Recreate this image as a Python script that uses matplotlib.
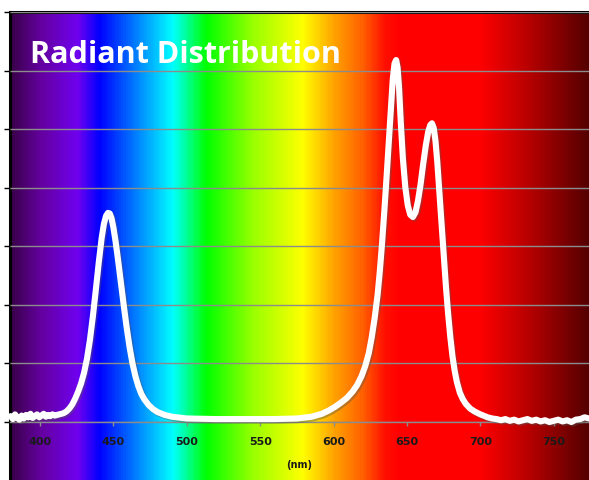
import matplotlib.pyplot as plt
import matplotlib.patheffects as pe
import numpy as np
from matplotlib.colors import LinearSegmentedColormap

# spectrum readings (grid units, one gridline = 1)
wavelength_nm = [380, 381.5, 383, 384.5, 386, 387.5, 389, 390.5, 392, 393.5, 395, 396.5, 398, 399.5,
                 401, 402.5, 404, 405.5, 407, 408.5, 410, 411.5, 413, 414.5, 416, 418, 420, 422, 424,
                 426, 428, 430, 432, 434, 436, 438, 440, 442, 443.5, 445, 446.3, 447.5, 448.7, 450,
                 451.5, 453, 455, 457, 459, 461, 463, 465, 467, 469, 471, 474, 477, 480, 485, 490,
                 500, 520, 540, 560, 575, 585, 592, 597, 601, 605, 609, 613, 616, 619, 621.5, 624,
                 626, 628, 630, 631.5, 633, 634.5, 636, 637.5, 639, 640.3, 641.5, 642.6, 643.6, 644.6,
                 645.8, 647.2, 648.8, 650.5, 652.2, 654, 655.8, 657.5, 659.2, 661, 662.8, 664.4, 665.8,
                 667, 668.2, 669.4, 670.6, 672, 673.5, 675, 676.5, 678, 679.5, 681, 682.5, 684, 686,
                 688, 690, 693, 696, 700, 705, 708, 711, 714, 717, 720, 723, 726, 729, 732, 735, 738,
                 741, 744, 747, 750, 753, 756, 759, 762, 765, 768, 771, 774]
radiance = [0.10, 0.05, 0.13, 0.07, 0.04, 0.11, 0.06, 0.12, 0.08, 0.14, 0.07, 0.10, 0.13, 0.08,
            0.11, 0.14, 0.09, 0.12, 0.10, 0.13, 0.11, 0.12, 0.13, 0.14, 0.15, 0.18, 0.23, 0.30, 0.40,
            0.52, 0.66, 0.84, 1.08, 1.40, 1.80, 2.25, 2.72, 3.14, 3.38, 3.52, 3.57, 3.56, 3.48, 3.32,
            3.08, 2.80, 2.40, 2.00, 1.62, 1.28, 1.00, 0.78, 0.61, 0.48, 0.39, 0.29, 0.22, 0.17, 0.12, 0.09,
            0.06, 0.05, 0.05, 0.05, 0.06, 0.09, 0.14, 0.20, 0.26, 0.33, 0.41, 0.52, 0.63, 0.78, 0.95, 1.18,
            1.45, 1.78, 2.18, 2.58, 3.05, 3.58, 4.15, 4.75, 5.35, 5.85, 6.12, 6.18, 6.05, 5.70,
            5.10, 4.50, 4.02, 3.70, 3.54, 3.50, 3.58, 3.78, 4.05, 4.40, 4.72, 4.95, 5.07,
            5.10, 5.02, 4.80, 4.45, 3.95, 3.40, 2.85, 2.32, 1.85, 1.45, 1.12, 0.87, 0.68, 0.50,
            0.39, 0.31, 0.23, 0.18, 0.13, 0.08, 0.06, 0.05, 0.03, 0.05, 0.02, 0.04, 0.01, 0.03, 0.05, 0.02, 0.04,
            0.01, 0.03, 0.00, 0.02, 0.04, 0.01, 0.03, 0.00, 0.04, 0.05, 0.08, 0.06]
tick_nm = [400, 450, 500, 550, 600, 650, 700, 750]

# background spectrum colour stops
stop_nm = [379, 400, 425, 440, 465, 490, 513, 545, 579, 600, 620, 635, 645, 700, 730, 774]
stop_col = ["#3a004a", "#6400a0", "#7000f0", "#0000ff", "#0080ff", "#00ffff", "#00ff00", "#99ff00",
            "#ffff00", "#ffa500", "#ff6000", "#ff1000", "#ff0000", "#ff0000", "#c00000", "#560000"]

x0, x1 = 379.56, 773.98
pos = [(s - x0) / (x1 - x0) for s in stop_nm]
pos[0], pos[-1] = 0.0, 1.0
cmap = LinearSegmentedColormap.from_list("spec", list(zip(pos, stop_col)))

fig = plt.figure(figsize=(5.89, 4.8), dpi=100)

bg = fig.add_axes([10/589, 0, 579/589, 468/480])
bg.imshow(np.linspace(0, 1, 600).reshape(1, -1), cmap=cmap, aspect="auto", extent=[x0, x1, 0, 1])
bg.set_xlim(x0, x1)
bg.set_xticks([])
bg.set_yticks([])
for s in ["right", "bottom"]:
    bg.spines[s].set_visible(False)
bg.spines["left"].set_linewidth(2.2)
bg.spines["top"].set_linewidth(2.2)

ax = fig.add_axes([10/589, 58/480, 579/589, 410/480])
ax.patch.set_alpha(0)
ax.set_xlim(x0, x1)
ax.set_ylim(0, 7)
ax.set_yticks(range(0, 8))
ax.set_yticklabels([])
ax.tick_params(axis="y", direction="out", length=4, width=1, color="black")
ax.yaxis.grid(True, color="#8c8c8c", lw=1)
ax.set_axisbelow(True)
for s in ["left", "top", "right"]:
    ax.spines[s].set_visible(False)
ax.spines["bottom"].set_color("#8c8c8c")
ax.spines["bottom"].set_linewidth(1)

ax.plot(wavelength_nm, radiance, color="white", lw=4.4, solid_capstyle="round", solid_joinstyle="round",
        path_effects=[pe.SimpleLineShadow(offset=(1.2, -1.2), shadow_color="#555555", alpha=0.4), pe.Normal()],
        clip_on=False, zorder=3)

ax.set_xticks(tick_nm)
ax.set_xticklabels([str(t) for t in tick_nm], fontsize=8, fontweight="bold", color="#1a1a1a",
                   family="DejaVu Sans")
ax.tick_params(axis="x", direction="out", length=3, width=1, color="#8c8c8c", pad=8)
ax.set_xlabel("(nm)", fontsize=7, fontweight="bold", color="#1a1a1a", family="DejaVu Sans", labelpad=9)

fig.text(30/589, 1 - 63/480, "Radiant Distribution", color="white", fontsize=22, fontweight="bold",
         family="Open Sans", va="baseline", ha="left")

fig.savefig("out.png", dpi=100)
